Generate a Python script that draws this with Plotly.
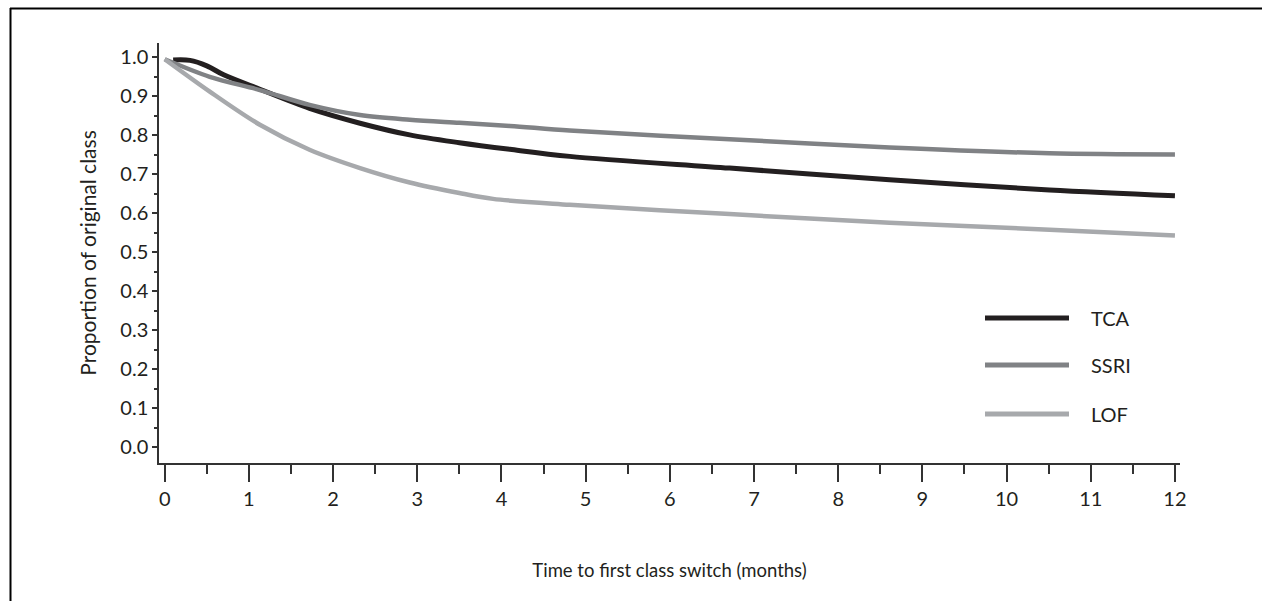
import plotly.graph_objects as go

# ---- data ----
tca_months = [0.1, 0.3, 0.5, 0.7, 1.13, 1.72, 2.32, 2.91, 3.5, 4.1, 4.81, 6.71, 8.61, 10.51, 12]
tca_values = [0.993, 0.992, 0.978, 0.955, 0.918, 0.869, 0.831, 0.801, 0.781, 0.764, 0.746, 0.716, 0.686, 0.660, 0.645]

ssri_months = [0, 0.535, 1.13, 1.72, 2.32, 2.91, 3.5, 4.1, 4.81, 6.71, 8.61, 10.51, 12]
ssri_values = [0.995, 0.950, 0.916, 0.878, 0.852, 0.840, 0.832, 0.824, 0.812, 0.790, 0.769, 0.754, 0.751]

lof_months = [0, 0.535, 1.13, 1.72, 2.32, 2.91, 3.5, 3.9, 4.81, 6.71, 8.61, 10.51, 12]
lof_values = [0.995, 0.912, 0.827, 0.763, 0.716, 0.679, 0.652, 0.637, 0.622, 0.598, 0.576, 0.558, 0.543]

series_names = ["TCA", "SSRI", "LOF"]
series_colors = ["#231f20", "#808285", "#a7a9ac"]
series_widths = [5, 4.5, 4.5]

x_ticks = list(range(0, 13))
x_ticklabels = [str(v) for v in x_ticks]
y_ticks = [round(i * 0.1, 1) for i in range(11)]
y_ticklabels = [f"{v:.1f}" for v in y_ticks]

FONT = "Lato, 'Open Sans', sans-serif"
TXT = "#231f20"

W, H = 1262, 601
ML, MR, MT, MB = 159, 82, 43, 138

fig = go.Figure()
for name, xs, ys, c, w in zip(series_names,
                              [tca_months, ssri_months, lof_months],
                              [tca_values, ssri_values, lof_values],
                              series_colors, series_widths):
    fig.add_trace(go.Scatter(x=xs, y=ys, mode="lines", name=name,
                             line=dict(color=c, width=w, shape="spline", smoothing=0.9),
                             showlegend=False))

pw = W - ML - MR
ph = H - MT - MB

def px2paper_x(px):
    return (px - ML) / pw

def px2paper_y(py):
    return (H - MB - py) / ph

shapes = []
annotations = []
# manual legend
leg_y = [318, 365, 414]
for name, c, yy in zip(series_names, series_colors, leg_y):
    shapes.append(dict(type="line", xref="paper", yref="paper",
                       x0=px2paper_x(985), x1=px2paper_x(1069),
                       y0=px2paper_y(yy), y1=px2paper_y(yy),
                       line=dict(color=c, width=5)))
    annotations.append(dict(xref="paper", yref="paper", x=px2paper_x(1089), y=px2paper_y(yy),
                            xanchor="left", yanchor="middle", text=name, showarrow=False,
                            font=dict(family=FONT, size=20, color=TXT)))
# outer frame (top and left edges)
shapes.append(dict(type="line", xref="paper", yref="paper",
                   x0=px2paper_x(10), x1=px2paper_x(1262), y0=px2paper_y(8.5), y1=px2paper_y(8.5),
                   line=dict(color="#000000", width=2)))
shapes.append(dict(type="line", xref="paper", yref="paper",
                   x0=px2paper_x(10.5), x1=px2paper_x(10.5), y0=px2paper_y(8), y1=px2paper_y(601),
                   line=dict(color="#000000", width=2)))

fig.update_layout(
    width=W, height=H,
    margin=dict(l=ML, r=MR, t=MT, b=MB, pad=0),
    paper_bgcolor="white", plot_bgcolor="white",
    font=dict(family=FONT, size=20, color=TXT),
    shapes=shapes, annotations=annotations,
    xaxis=dict(range=[-0.068, 12.06], tickvals=x_ticks, ticktext=x_ticklabels,
               showgrid=False, zeroline=False, showline=True, linecolor="#333333", linewidth=1.5,
               ticks="outside", ticklen=17, tickwidth=1.5, tickcolor="#333333",
               minor=dict(dtick=0.5, ticks="outside", ticklen=9, tickwidth=1.5, tickcolor="#333333", showgrid=False),
               tickfont=dict(family=FONT, size=20, color=TXT),
               title=dict(text="Time to first class switch (months)", standoff=55,
                          font=dict(family=FONT, size=18.5, color=TXT))),
    yaxis=dict(range=[-0.040, 1.0366], tickvals=y_ticks, ticktext=y_ticklabels,
               showgrid=False, zeroline=False, showline=True, linecolor="#333333", linewidth=1.5,
               ticks="outside", ticklen=5, tickwidth=1.5, tickcolor="#333333",
               minor=dict(dtick=0.05, ticks="outside", ticklen=3, tickwidth=1.5, tickcolor="#333333", showgrid=False),
               tickfont=dict(family=FONT, size=20, color=TXT),
               title=dict(text="Proportion of original class", standoff=18,
                          font=dict(family=FONT, size=21, color=TXT))),
)

fig.write_html("out.html")
